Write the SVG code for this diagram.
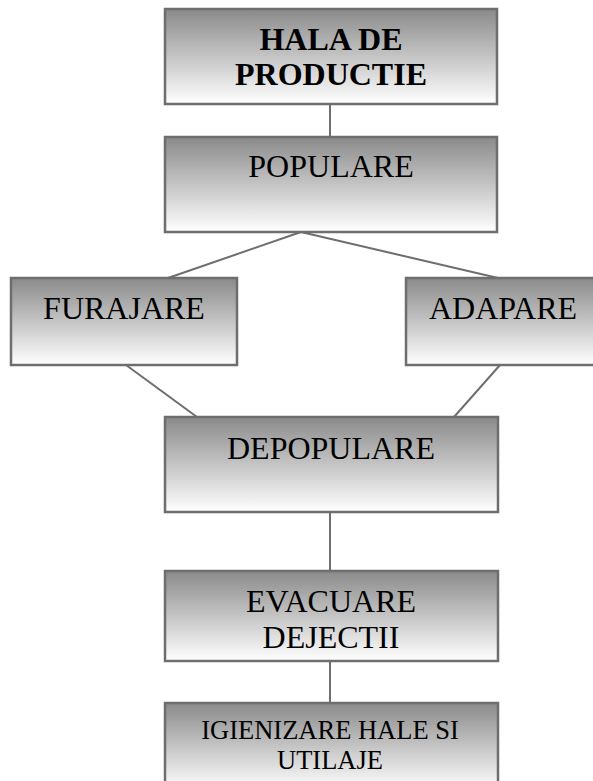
<svg xmlns="http://www.w3.org/2000/svg" width="593" height="781" viewBox="0 0 593 781">
<defs>
<linearGradient id="g" x1="0" y1="0" x2="0" y2="1">
<stop offset="0" stop-color="#8a8a8a"/>
<stop offset="1" stop-color="#ffffff"/>
</linearGradient>
</defs>
<style>
.box{fill:url(#g);stroke:#6e6e6e;stroke-width:2.5}
.t{font-family:"Liberation Serif","Times New Roman",serif;font-size:32px;fill:#000;text-anchor:middle}
.b{font-weight:bold}
.s{font-size:26.5px}
.c{stroke:#6e6e6e;stroke-width:2;fill:none}
</style>
<rect width="593" height="781" fill="#fff"/>
<g id="connectors">
<line class="c" x1="330" y1="104" x2="330" y2="137"/>
<line class="c" x1="301" y1="232" x2="168" y2="278"/>
<line class="c" x1="301" y1="232" x2="498" y2="278"/>
<line class="c" x1="126" y1="365" x2="197" y2="417"/>
<line class="c" x1="500" y1="365" x2="454" y2="417"/>
<line class="c" x1="330" y1="512" x2="330" y2="571"/>
<line class="c" x1="330" y1="661" x2="330" y2="703"/>
</g>
<g id="hala">
<rect class="box" x="165" y="9" width="332" height="95"/>
<text class="t b" x="331" y="50">HALA DE</text>
<text class="t b" x="331" y="85">PRODUCTIE</text>
</g>
<g id="populare">
<rect class="box" x="165" y="137" width="332" height="95"/>
<text class="t" x="331" y="177">POPULARE</text>
</g>
<g id="furajare">
<rect class="box" x="11" y="278" width="226" height="87"/>
<text class="t" x="124" y="319">FURAJARE</text>
</g>
<g id="adapare">
<rect class="box" x="406" y="278" width="196" height="87"/>
<text class="t" x="503" y="319">ADAPARE</text>
</g>
<g id="depopulare">
<rect class="box" x="165" y="417" width="333" height="95"/>
<text class="t" x="331" y="459">DEPOPULARE</text>
</g>
<g id="evacuare">
<rect class="box" x="165" y="571" width="333" height="90"/>
<text class="t" x="331" y="612">EVACUARE</text>
<text class="t" x="331" y="648">DEJECTII</text>
</g>
<g id="igienizare">
<rect class="box" x="165" y="703" width="333" height="87"/>
<text class="t s" x="330" y="739">IGIENIZARE HALE SI</text>
<text class="t s" x="330" y="769">UTILAJE</text>
</g>
</svg>
